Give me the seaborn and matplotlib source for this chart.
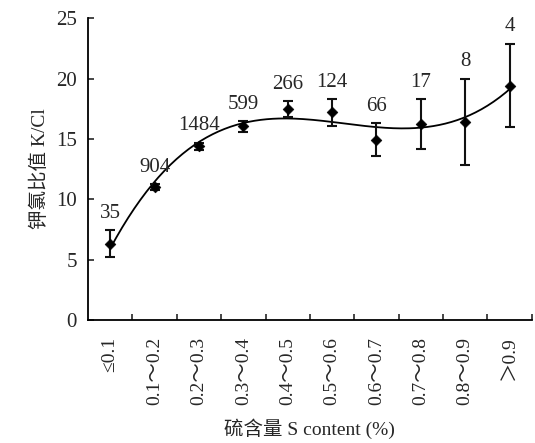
import numpy as np
import pandas as pd
import seaborn as sns
import matplotlib.pyplot as plt

# ------------------- Data -------------------
categories = ['≤0.1', '0.1～0.2', '0.2～0.3', '0.3～0.4', '0.4～0.5',
              '0.5～0.6', '0.6～0.7', '0.7～0.8', '0.8～0.9', '＞0.9']
kcl_mean = [6.3, 11.0, 14.4, 16.1, 17.45, 17.2, 14.9, 16.2, 16.4, 19.4]
err_low = [1.1, 0.25, 0.3, 0.5, 0.65, 1.1, 1.3, 2.0, 3.6, 3.4]
err_high = [1.15, 0.25, 0.3, 0.4, 0.65, 1.1, 1.4, 2.1, 3.6, 3.5]
counts = [35, 904, 1484, 599, 266, 124, 66, 17, 8, 4]

df = pd.DataFrame({'pos': np.arange(len(categories)), 'kcl': kcl_mean})

# cubic trend line fitted to the means
coef = np.polyfit(df['pos'], df['kcl'], 3)
xs = np.linspace(0, len(categories) - 1, 200)
trend = pd.DataFrame({'pos': xs, 'kcl': np.polyval(coef, xs)})

# ------------------- Plot -------------------
sns.set_style('ticks')
plt.rcParams['font.family'] = ['Liberation Serif', 'Noto Sans CJK SC']

fig = plt.figure(figsize=(5.35, 4.43), dpi=100)
ax = fig.add_axes([0.1645, 0.2777, 0.8295, 0.6813])

sns.lineplot(data=trend, x='pos', y='kcl', color='black', linewidth=1.3, ax=ax)
ax.errorbar(df['pos'], df['kcl'], yerr=[err_low, err_high], fmt='none',
            ecolor='#111111', elinewidth=1.5, capsize=3.5, capthick=1.5)
sns.scatterplot(data=df, x='pos', y='kcl', marker='D', color='black', s=30,
                edgecolor='black', zorder=5, ax=ax)

for i, n in enumerate(counts):
    ax.text(i, kcl_mean[i] + err_high[i] + 0.6, str(n), ha='center', va='bottom',
            fontsize=15)

ax.set_xlim(-0.5, len(categories) - 0.5)
ax.set_ylim(0, 25)
ax.set_yticks([0, 5, 10, 15, 20, 25])
ax.set_xticks(np.arange(len(categories)))
ax.set_xticklabels(categories, rotation=90, fontsize=14)
ax.set_xticks(np.arange(len(categories)) + 0.5, minor=True)
ax.tick_params(axis='x', which='major', length=0, pad=12)
ax.tick_params(axis='x', which='minor', direction='in', length=4, width=1.2)
ax.tick_params(axis='y', direction='in', length=4, width=1.2, labelsize=15, pad=8)
for side in ['top', 'right']:
    ax.spines[side].set_visible(False)
for side in ['left', 'bottom']:
    ax.spines[side].set_linewidth(1.3)
    ax.spines[side].set_color('black')

ax.set_xlabel('硫含量 S content (%)', fontsize=14, labelpad=10)
ax.set_ylabel('钾氯比值 K/Cl', fontsize=14, labelpad=5)

fig.savefig('out.png', dpi=100)
